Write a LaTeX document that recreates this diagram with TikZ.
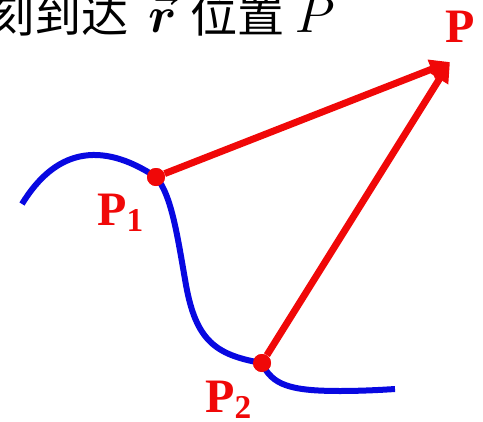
\documentclass[tikz,border=0pt]{standalone}
\usepackage{amsmath,amssymb}
\usepackage{graphicx}
\usepackage{fontspec}
\usepackage{tikz}
\usetikzlibrary{arrows.meta,positioning}

\newfontfamily\cjkfont[Scale=1.36]{Noto Sans CJK SC}
\newfontfamily\ptfont{Liberation Serif}
\definecolor{curveblue}{RGB}{8,8,225}
\definecolor{ptred}{RGB}{240,8,8}
\newcommand{\subidx}[1]{\raisebox{-5pt}{\fontsize{25}{25}\selectfont #1}}
\newcommand{\bigmath}[1]{\scalebox{3.8}{\normalsize$#1$}}

\begin{document}
\begin{tikzpicture}[
  x=0.75pt, y=-0.75pt,
  >={Triangle[length=15pt,width=14.5pt]},
  curve/.style={draw=curveblue, line width=4.5pt},
  vec/.style={->, draw=ptred, line width=5.2pt},
  dot/.style={circle, fill=ptred, inner sep=0pt, minimum size=13.5pt},
  ptlabel/.style={anchor=base west, inner sep=0pt, text=ptred,
    font=\ptfont\bfseries\fontsize{36}{40}\selectfont},
]
\useasboundingbox (0,0) rectangle (483,422);

% Heading (cut at the left edge)
\node[anchor=base west, inner sep=0pt, font=\fontsize{26}{30}\selectfont]
  (heading) at (-13,32)
  {\cjkfont 刻到达\hspace{15pt}\bigmath{\vec{\boldsymbol{r}}}\hspace{10pt}位置\hspace{8pt}\bigmath{P}};

% Points
\node[dot] (p1) at (156,177) {};
\node[dot] (p2) at (262,363) {};
\coordinate (ptip) at (450,62);

% Path of the particle
\draw[curve] (22,204) .. controls (55,150) and (100,140) .. (p1.center)
  .. controls (172,195) and (178,240) .. (186,285)
  .. controls (196,340) and (215,355) .. (p2.center)
  .. controls (272,385) and (290,391) .. (340,391)
  .. controls (360,391) and (380,390) .. (395,389);

% Position vectors
\draw[vec] (p1) -- (ptip);
\draw[vec] (p2) -- (ptip);
\node[dot] at (p1) {};
\node[dot] at (p2) {};

% Labels
\node[ptlabel] (lp) at (445,42) {P};
\node[ptlabel] (lp1) at (97,225) {P\subidx{1}};
\node[ptlabel] (lp2) at (205,412) {P\subidx{2}};
\end{tikzpicture}
\end{document}
